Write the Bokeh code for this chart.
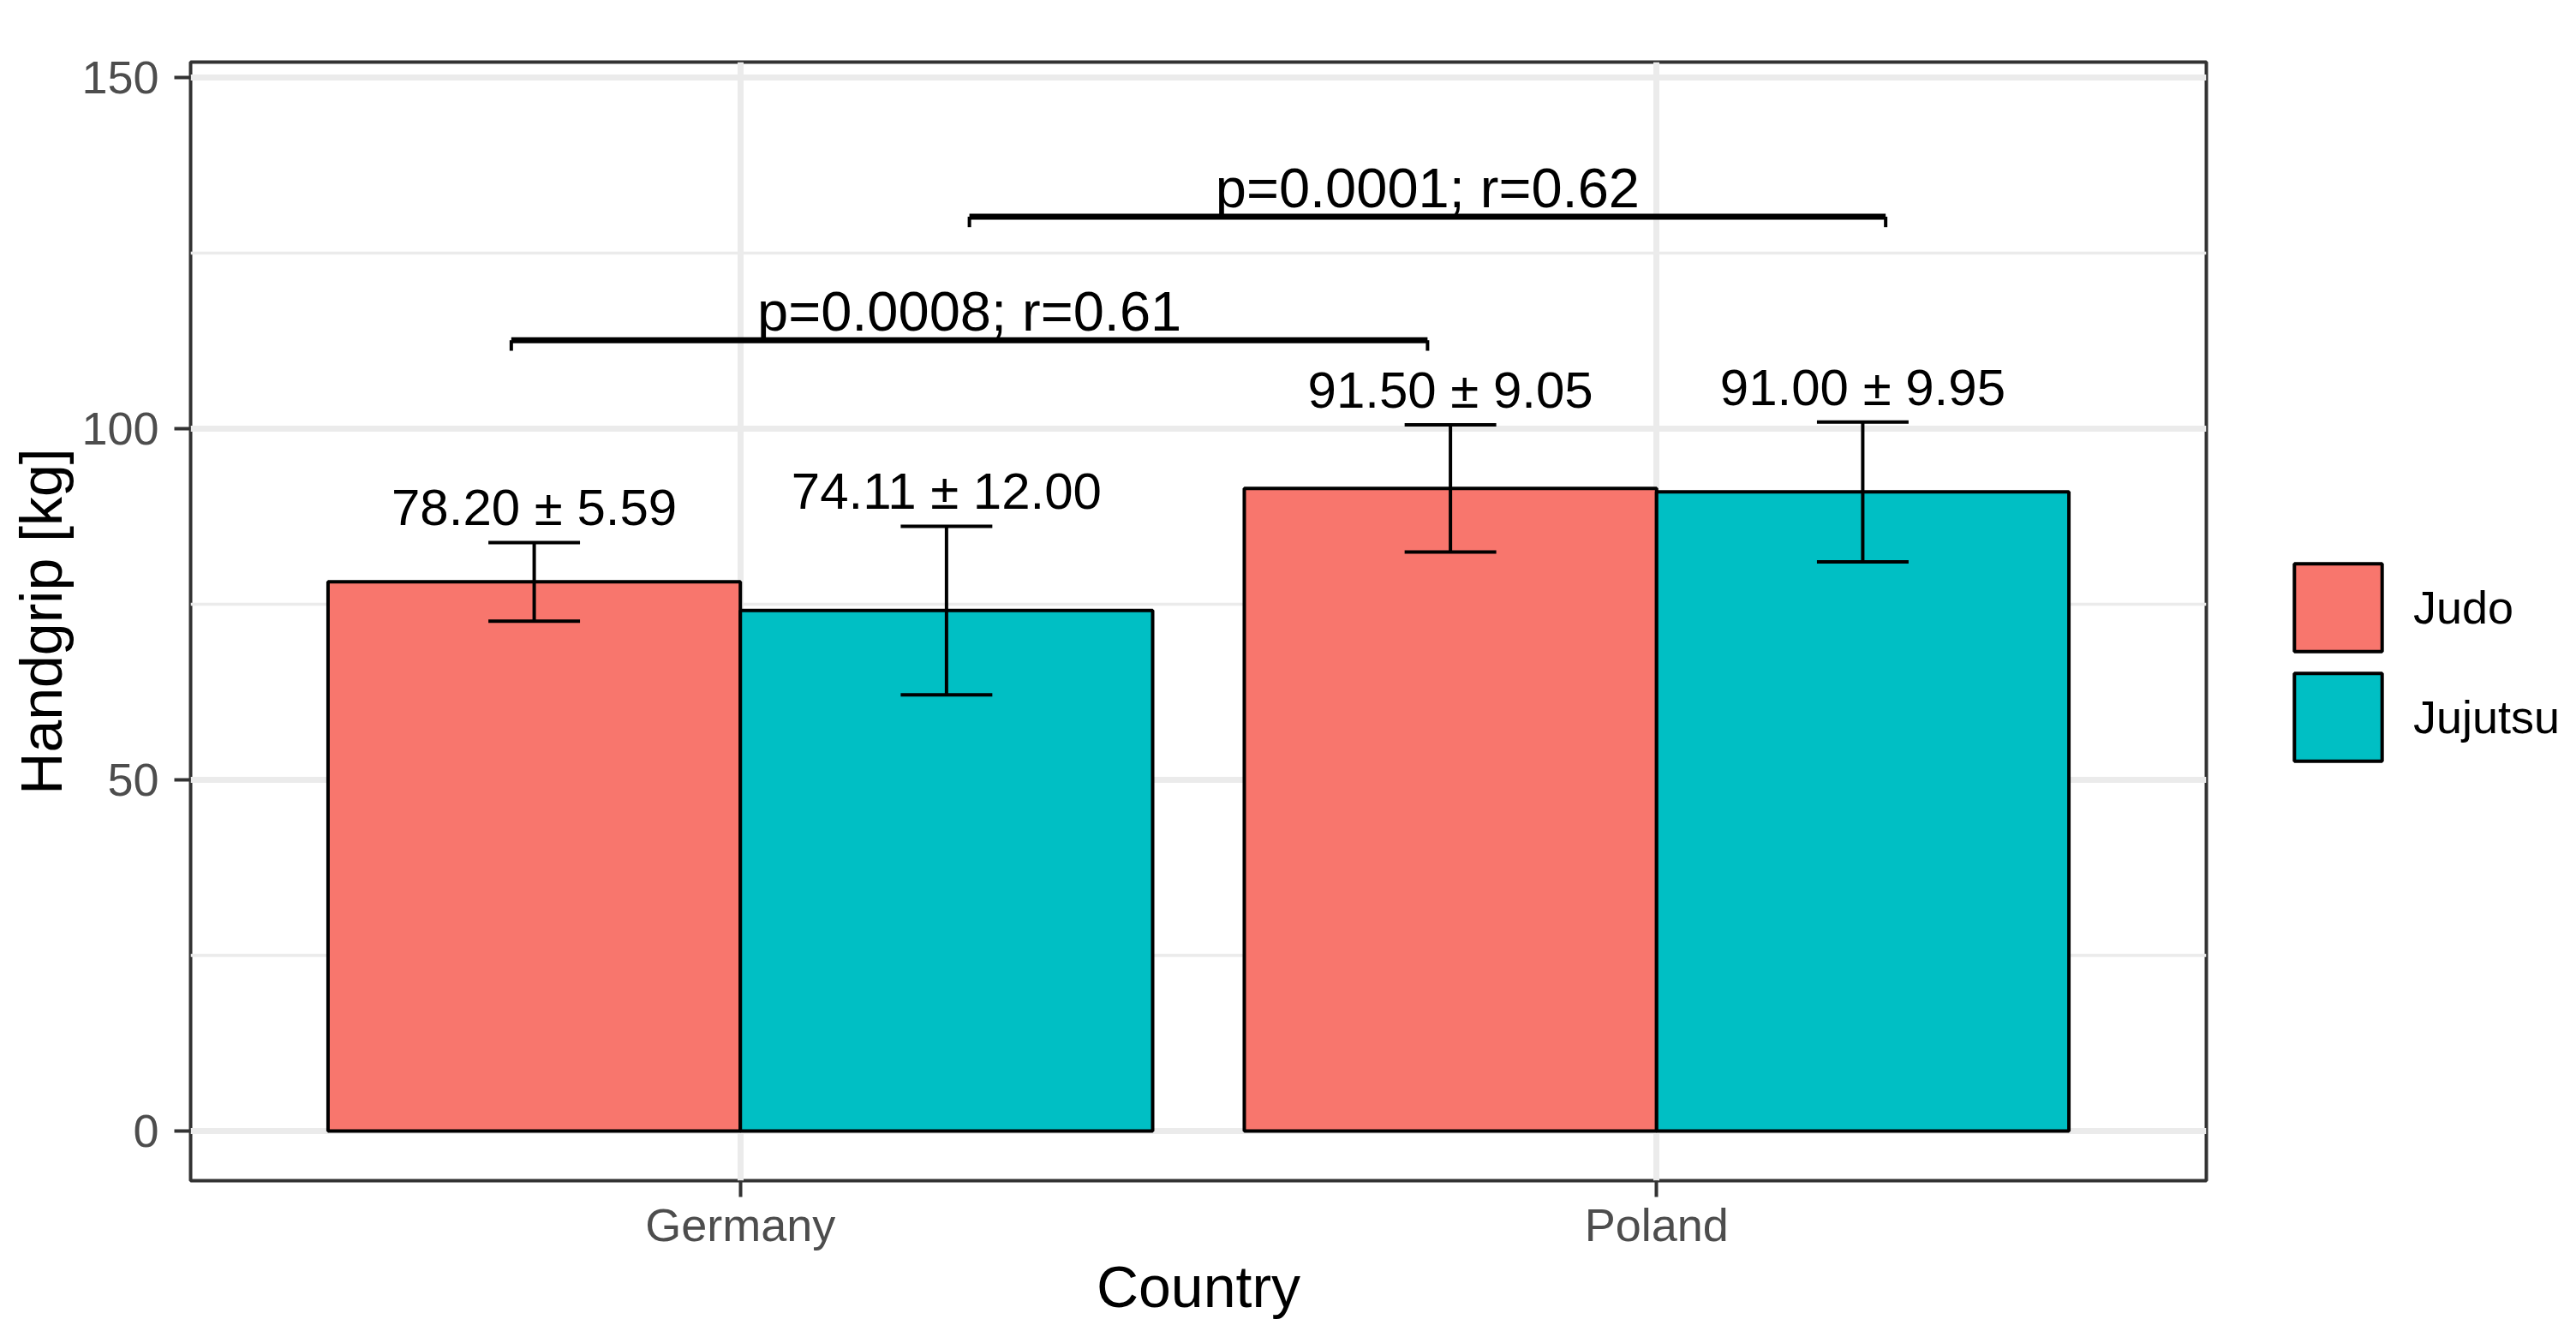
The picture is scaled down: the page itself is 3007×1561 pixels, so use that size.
from bokeh.plotting import figure
from bokeh.models import Range1d, FixedTicker, Legend, LegendItem, ColumnDataSource, LabelSet
from bokeh.embed import file_html
from bokeh.resources import INLINE
from bokeh.core.properties import value

# ---- data ----
countries = ["Germany", "Poland"]
groups = ["Judo", "Jujutsu"]
judo_mean = [78.20, 91.50]
judo_sd = [5.59, 9.05]
jujutsu_mean = [74.11, 91.00]
jujutsu_sd = [12.00, 9.95]
group_colors = ["#F8766D", "#00BFC4"]
y_ticks = [0, 50, 100, 150]
y_minor_ticks = [25, 75, 125]
bracket_xmin = [1.25, 0.75]
bracket_xmax = [2.25, 1.75]
bracket_y = [130.2, 112.6]
bracket_text = ["p=0.0001; r=0.62", "p=0.0008; r=0.61"]

FONT = "Liberation Sans"
BAR_W = 0.45
DODGE = [-0.225, 0.225]

p = figure(
    frame_width=2353, frame_height=1306,
    x_range=Range1d(0.4, 2.6), y_range=Range1d(-7.07, 152.2),
    output_backend="svg", toolbar_location=None,
    min_border_left=222, min_border_top=72, min_border_bottom=165, min_border_right=416,
    background_fill_color="white", border_fill_color="white",
)

cat_pos = [i + 1 for i in range(len(countries))]
means = [judo_mean, jujutsu_mean]
sds = [judo_sd, jujutsu_sd]

renderers = []
for g, (name, col) in enumerate(zip(groups, group_colors)):
    xs = [c + DODGE[g] for c in cat_pos]
    src = ColumnDataSource(dict(
        x=xs, top=means[g],
        upper=[m + s for m, s in zip(means[g], sds[g])],
        lower=[m - s for m, s in zip(means[g], sds[g])],
        cl=[x - 0.05 for x in xs], cr=[x + 0.05 for x in xs],
        label=[f"{m:.2f} \u00b1 {s:.2f}" for m, s in zip(means[g], sds[g])],
    ))
    r = p.vbar(x="x", top="top", bottom=0, width=BAR_W, source=src,
               fill_color=col, line_color="black", line_width=4)
    renderers.append(r)
    p.segment(x0="x", x1="x", y0="lower", y1="upper", source=src,
              line_color="black", line_width=4)
    p.segment(x0="cl", x1="cr", y0="upper", y1="upper", source=src,
              line_color="black", line_width=4)
    p.segment(x0="cl", x1="cr", y0="lower", y1="lower", source=src,
              line_color="black", line_width=4)
    p.add_layout(LabelSet(x="x", y="upper", text="label", source=src, y_offset=20,
                          text_align="center", text_baseline="alphabetic",
                          text_font=value(FONT), text_font_size=value("60px"),
                          text_color="black"))

# significance brackets
bsrc = ColumnDataSource(dict(
    x0=bracket_xmin, x1=bracket_xmax, y=bracket_y,
    ytip=[y - 1.5 for y in bracket_y],
    xm=[(a + b) / 2 for a, b in zip(bracket_xmin, bracket_xmax)],
    text=bracket_text,
))
p.segment(x0="x0", x1="x1", y0="y", y1="y", source=bsrc, line_color="black", line_width=7)
p.segment(x0="x0", x1="x0", y0="y", y1="ytip", source=bsrc, line_color="black", line_width=4)
p.segment(x0="x1", x1="x1", y0="y", y1="ytip", source=bsrc, line_color="black", line_width=4)
p.add_layout(LabelSet(x="xm", y="y", text="text", source=bsrc, y_offset=11,
                      text_align="center", text_baseline="alphabetic",
                      text_font=value(FONT), text_font_size=value("65px"),
                      text_color="black"))

# axes
p.xaxis.ticker = FixedTicker(ticks=cat_pos)
p.xaxis.major_label_overrides = {c: n for c, n in zip(cat_pos, countries)}
p.yaxis.ticker = FixedTicker(ticks=y_ticks, minor_ticks=y_minor_ticks)
p.xaxis.axis_label = "Country"
p.yaxis.axis_label = "Handgrip [kg]"
for ax in (p.xaxis, p.yaxis):
    ax.axis_line_color = None
    ax.major_tick_line_color = "#333333"
    ax.major_tick_line_width = 4
    ax.major_tick_out = 19
    ax.major_tick_in = 0
    ax.minor_tick_line_color = None
    ax.major_label_text_font = FONT
    ax.major_label_text_font_size = "54px"
    ax.major_label_text_color = "#4D4D4D"
    ax.axis_label_text_font = FONT
    ax.axis_label_text_font_size = "68px"
    ax.axis_label_text_font_style = "normal"
    ax.axis_label_text_color = "black"
p.xaxis.major_label_standoff = 2
p.xaxis.axis_label_standoff = 1
p.yaxis.major_label_standoff = 18
p.yaxis.axis_label_standoff = 6

p.xgrid.ticker = FixedTicker(ticks=cat_pos)
p.ygrid.ticker = FixedTicker(ticks=y_ticks, minor_ticks=y_minor_ticks)
for gr in (p.xgrid, p.ygrid):
    gr.grid_line_color = "#EBEBEB"
    gr.grid_line_width = 7
p.ygrid.minor_grid_line_color = "#EBEBEB"
p.ygrid.minor_grid_line_width = 3.5

p.outline_line_color = "#333333"
p.outline_line_width = 4
p.outline_line_alpha = 1

legend = Legend(
    items=[LegendItem(label=n, renderers=[r]) for n, r in zip(groups, renderers)],
    location=(90, 477), margin=0, padding=0, spacing=0,
    glyph_width=128, glyph_height=128, label_height=128,
    label_standoff=24,
    label_text_font=FONT, label_text_font_size="54px", label_text_color="black",
    border_line_alpha=0, background_fill_alpha=0,
)
p.add_layout(legend, "right")

open("out.html", "w").write(file_html(p, INLINE))
